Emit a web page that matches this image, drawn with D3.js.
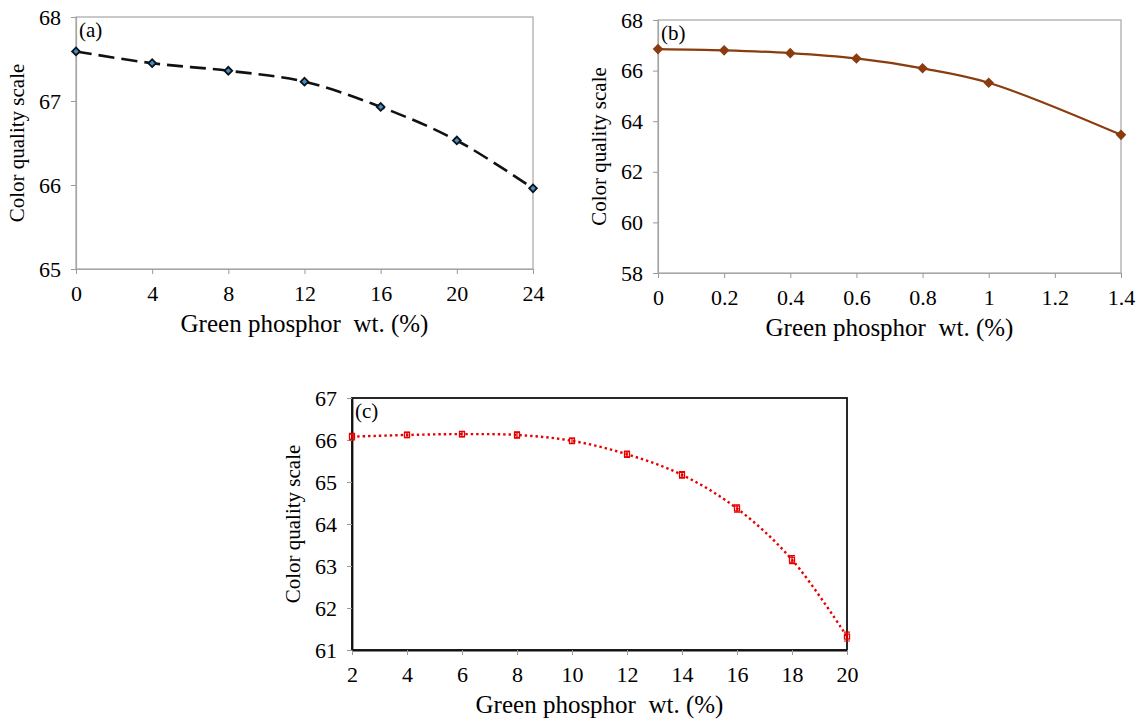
<!DOCTYPE html>
<html>
<head>
<meta charset="utf-8">
<script src="https://cdn.jsdelivr.net/npm/d3@7.9.0/dist/d3.min.js"></script>
<style>
  body { margin: 0; background: #fff; }
  svg text { font-family: "Liberation Serif", "Times New Roman", serif; fill: #000; }
</style>
</head>
<body>
<svg id="chart" width="1147" height="721"></svg>
<script>
// panel (a)
const xA = [0, 4, 8, 12, 16, 20, 24];
const yA = [67.59, 67.45, 67.36, 67.23, 66.93, 66.53, 65.96];
const xTicksA = [0, 4, 8, 12, 16, 20, 24];
const yTicksA = [65, 66, 67, 68];

// panel (b)
const xB = [0, 0.2, 0.4, 0.6, 0.8, 1.0, 1.4];
const yB = [66.85, 66.8, 66.69, 66.48, 66.09, 65.52, 63.46];
const xTicksB = [0, 0.2, 0.4, 0.6, 0.8, 1, 1.2, 1.4];
const yTicksB = [58, 60, 62, 64, 66, 68];

// panel (c)
const xC = [2, 4, 6, 8, 10, 12, 14, 16, 18, 20];
const yC = [66.08, 66.12, 66.14, 66.12, 65.98, 65.66, 65.17, 64.37, 63.15, 61.32];
const errC = [0.04, 0.03, 0.03, 0.04, 0.03, 0.04, 0.04, 0.05, 0.06, 0.07];
const xTicksC = [2, 4, 6, 8, 10, 12, 14, 16, 18, 20];
const yTicksC = [61, 62, 63, 64, 65, 66, 67];

const xTitle = 'Green phosphor  wt. (%)';
const yTitle = 'Color quality scale';

const svg = d3.select('#chart');

function drawPanel(p) {
  const x = d3.scaleLinear().domain(p.xDomain).range([p.left, p.right]);
  const y = d3.scaleLinear().domain(p.yDomain).range([p.bottom, p.top]);
  const g = svg.append('g');

  // plot area frame
  g.append('rect')
    .attr('x', p.left).attr('y', p.top)
    .attr('width', p.right - p.left).attr('height', p.bottom - p.top)
    .attr('fill', 'none')
    .attr('stroke', p.frame)
    .attr('stroke-width', p.frameWidth);

  const fmt = (d) => String(+d.toFixed(1));

  const xAxis = g.append('g')
    .attr('transform', `translate(0, ${p.bottom})`)
    .call(d3.axisBottom(x).tickValues(p.xTicks).tickFormat(fmt).tickSize(5).tickSizeOuter(0).tickPadding(11));
  const yAxis = g.append('g')
    .attr('transform', `translate(${p.left}, 0)`)
    .call(d3.axisLeft(y).tickValues(p.yTicks).tickFormat(fmt).tickSize(5).tickSizeOuter(0).tickPadding(10));

  [xAxis, yAxis].forEach((a) => {
    a.select('.domain').attr('stroke', p.frame).attr('stroke-width', p.frameWidth);
    a.selectAll('.tick line').attr('stroke', '#999');
    a.selectAll('.tick text').style('font-size', '22px').attr('fill', '#000');
  });

  // titles
  g.append('text')
    .attr('x', (p.left + p.right) / 2).attr('y', p.bottom + 63)
    .attr('text-anchor', 'middle')
    .style('font-size', '25px')
    .style('white-space', 'pre')
    .text(xTitle);
  g.append('text')
    .attr('transform', `translate(${p.left - 52}, ${(p.top + p.bottom) / 2}) rotate(-90)`)
    .attr('text-anchor', 'middle')
    .style('font-size', '21px')
    .text(yTitle);
  g.append('text')
    .attr('x', p.left + 3).attr('y', p.top + 20)
    .style('font-size', '21px')
    .text(p.label);

  const pts = p.xs.map((v, i) => [x(v), y(p.ys[i])]);
  g.append('path')
    .attr('d', d3.line().curve(d3.curveCatmullRom.alpha(0.5))(pts))
    .attr('fill', 'none')
    .attr('stroke', p.lineColor)
    .attr('stroke-width', p.lineWidth)
    .attr('stroke-dasharray', p.dash);

  p.marker(g, pts, x, y);
}

drawPanel({
  label: '(a)', left: 76, right: 533, top: 17, bottom: 269,
  xDomain: [0, 24], yDomain: [65, 68], xTicks: xTicksA, yTicks: yTicksA,
  xs: xA, ys: yA, frame: '#a6a6a6', frameWidth: 1.2,
  lineColor: '#111', lineWidth: 2.6, dash: '16,7',
  marker: (g, pts) => {
    g.selectAll('.mA').data(pts).join('path')
      .attr('transform', (d) => `translate(${d[0]},${d[1]}) rotate(45)`)
      .attr('d', d3.symbol(d3.symbolSquare, 30)())
      .attr('fill', '#3d8fd1')
      .attr('stroke', '#111')
      .attr('stroke-width', 1.8);
  }
});

drawPanel({
  label: '(b)', left: 658, right: 1121, top: 20, bottom: 273,
  xDomain: [0, 1.4], yDomain: [58, 68], xTicks: xTicksB, yTicks: yTicksB,
  xs: xB, ys: yB, frame: '#a6a6a6', frameWidth: 1.2,
  lineColor: '#8a3c0f', lineWidth: 2.2, dash: null,
  marker: (g, pts) => {
    g.selectAll('.mB').data(pts).join('path')
      .attr('transform', (d) => `translate(${d[0]},${d[1]}) rotate(45)`)
      .attr('d', d3.symbol(d3.symbolSquare, 56)())
      .attr('fill', '#8a3c0f');
  }
});

drawPanel({
  label: '(c)', left: 352, right: 847, top: 398, bottom: 650,
  xDomain: [2, 20], yDomain: [61, 67], xTicks: xTicksC, yTicks: yTicksC,
  xs: xC, ys: yC, frame: '#111', frameWidth: 1.8,
  lineColor: '#e60000', lineWidth: 2.4, dash: '2.4,3',
  marker: (g, pts, x, y) => {
    const eb = g.selectAll('.mC').data(xC).join('g');
    eb.append('path')
      .attr('d', (d, i) => {
        const cx = x(d), y0 = y(yC[i] - errC[i]) + 1.5, y1 = y(yC[i] + errC[i]) - 1.5;
        return `M${cx - 3},${y0}H${cx + 3}M${cx - 3},${y1}H${cx + 3}M${cx},${y0}V${y1}`;
      })
      .attr('stroke', '#e60000')
      .attr('stroke-width', 1.2)
      .attr('fill', 'none');
    eb.append('rect')
      .attr('x', (d) => x(d) - 2.5)
      .attr('y', (d, i) => y(yC[i]) - 2.5)
      .attr('width', 5).attr('height', 5)
      .attr('fill', 'none')
      .attr('stroke', '#e60000')
      .attr('stroke-width', 1.3);
  }
});
</script>
</body>
</html>
